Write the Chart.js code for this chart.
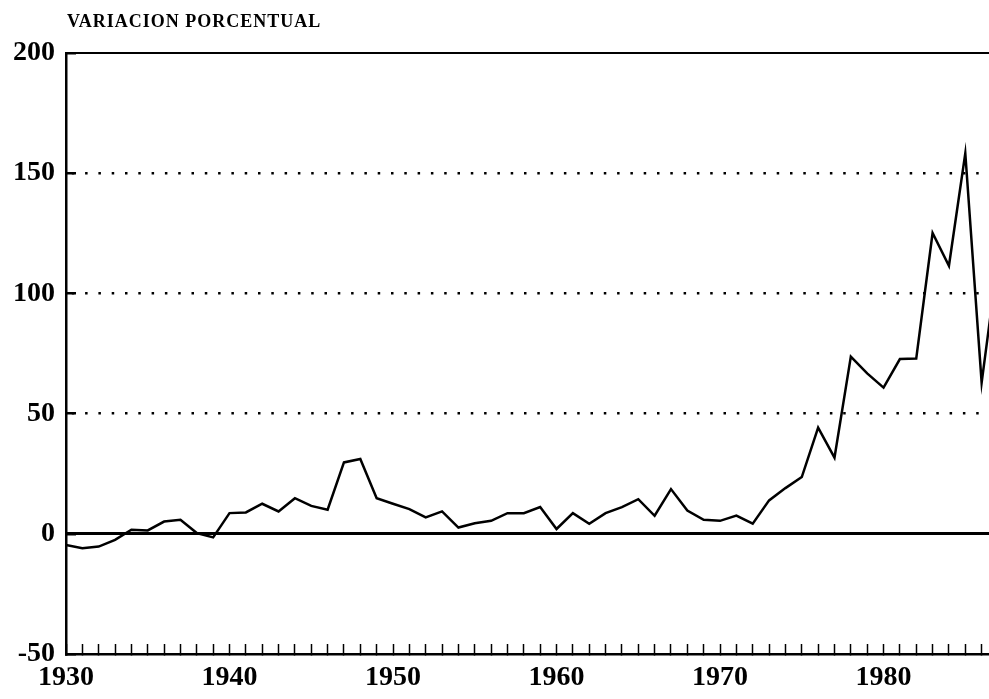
<!DOCTYPE html>
<html lang="es">
<head>
    <meta charset="UTF-8">
    <title>Variacion porcentual</title>
    <script src="https://cdn.jsdelivr.net/npm/chart.js"></script>
    <style>
        body {
            margin: 0;
            background: #fff;
        }
        #wrap {
            position: relative;
            width: 989px;
            height: 699px;
        }
        #titulo {
            position: absolute;
            left: 67px;
            top: 13px;
            font-family: 'Liberation Serif', serif;
            font-weight: bold;
            font-size: 18px;
            letter-spacing: 1px;
            line-height: 17px;
            color: #000;
        }
    </style>
</head>
<body>
    <div id="wrap">
        <div id="titulo">VARIACION PORCENTUAL</div>
        <canvas id="myChart"></canvas>
    </div>

    <script>
        // años y variacion porcentual
        const years = [
            1930, 1931, 1932, 1933, 1934, 1935, 1936, 1937, 1938, 1939,
            1940, 1941, 1942, 1943, 1944, 1945, 1946, 1947, 1948, 1949,
            1950, 1951, 1952, 1953, 1954, 1955, 1956, 1957, 1958, 1959,
            1960, 1961, 1962, 1963, 1964, 1965, 1966, 1967, 1968, 1969,
            1970, 1971, 1972, 1973, 1974, 1975, 1976, 1977, 1978, 1979,
            1980, 1981, 1982, 1983, 1984, 1985, 1986, 1987
        ];
        const variacion = [
            -4.6, -6.0, -5.3, -2.5, 1.7, 1.4, 5.1, 5.8, 0.3, -1.5,
            8.6, 8.9, 12.5, 9.3, 14.8, 11.6, 10.0, 29.7, 31.1, 14.8,
            12.5, 10.3, 6.8, 9.3, 2.6, 4.4, 5.4, 8.6, 8.6, 11.1,
            2.0, 8.6, 4.2, 8.6, 11.1, 14.4, 7.5, 18.6, 9.7, 5.8,
            5.4, 7.6, 4.2, 13.9, 19.0, 23.6, 44.2, 31.7, 73.7, 66.7,
            60.8, 72.7, 72.9, 125.1, 111.5, 158.3, 62.9, 114.5
        ];
        const yTicks = [-50, 0, 50, 100, 150, 200];
        const dottedLines = [50, 100, 150];
        const solidLines = [0, 200];
        const xMin = 1930;
        const xMax = 1986.45;

        const serif = 'Liberation Serif';
        const ctx = document.getElementById('myChart').getContext('2d');

        new Chart(ctx, {
            type: 'line',
            data: {
                datasets: [{
                    data: years.map((y, i) => ({ x: y, y: variacion[i] })),
                    borderColor: '#000',
                    borderWidth: 2.5,
                    pointRadius: 0,
                    tension: 0,
                    fill: false
                }]
            },
            options: {
                responsive: true,
                maintainAspectRatio: false,
                animation: false,
                devicePixelRatio: 1,
                layout: {
                    padding: { top: 53, left: 0, right: 0, bottom: 0 }
                },
                plugins: {
                    legend: { display: false },
                    tooltip: { enabled: false }
                },
                scales: {
                    x: {
                        type: 'linear',
                        min: xMin,
                        max: xMax,
                        ticks: {
                            stepSize: 1,
                            autoSkip: false,
                            includeBounds: false,
                            maxRotation: 0,
                            padding: 0,
                            color: '#000',
                            font: { family: serif, size: 28, weight: 'bold', lineHeight: 2.4 },
                            callback: v => (v % 10 === 0 ? String(v) : '')
                        },
                        grid: {
                            drawOnChartArea: false,
                            tickLength: -10,
                            tickColor: '#000',
                            tickWidth: 1.5
                        },
                        border: { color: '#000', width: 2.5 },
                        afterFit: s => { s.height = 45; }
                    },
                    y: {
                        type: 'linear',
                        min: yTicks[0],
                        max: yTicks[yTicks.length - 1],
                        ticks: {
                            stepSize: 50,
                            padding: 21,
                            color: '#000',
                            font: { family: serif, size: 28, weight: 'bold' }
                        },
                        grid: {
                            color: c => (c.tick && dottedLines.includes(c.tick.value)) ? '#000' : 'rgba(0,0,0,0)',
                            lineWidth: 2.5,
                            tickLength: -10,
                            tickColor: '#000',
                            tickWidth: 2.5
                        },
                        border: { color: '#000', width: 2.5, dash: [2.5, 10.8], dashOffset: 9 },
                        afterFit: s => { s.width = 66; }
                    },
                    yz: {
                        type: 'linear',
                        position: 'right',
                        min: yTicks[0],
                        max: yTicks[yTicks.length - 1],
                        ticks: { stepSize: 50, display: false },
                        grid: {
                            color: c => (c.tick && solidLines.includes(c.tick.value)) ? '#000' : 'rgba(0,0,0,0)',
                            lineWidth: c => (c.tick && c.tick.value === 0) ? 3 : 2,
                            drawTicks: false
                        },
                        border: { display: false },
                        afterFit: s => { s.width = 0; }
                    }
                }
            }
        });
    </script>
</body>
</html>
